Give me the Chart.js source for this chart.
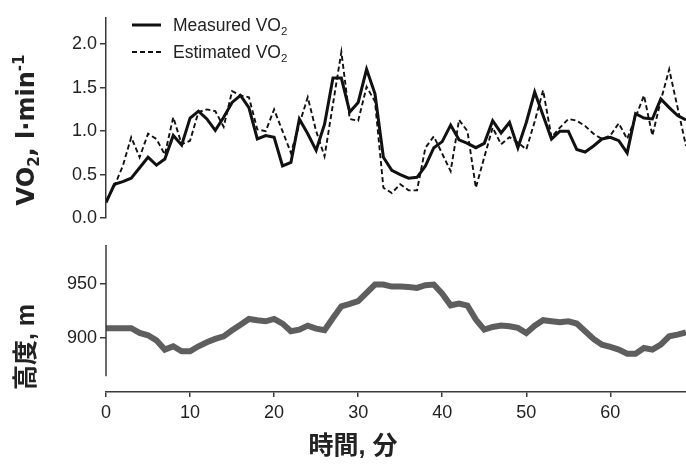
<!DOCTYPE html>
<html>
<head>
<meta charset="utf-8">
<script src="https://cdn.jsdelivr.net/npm/chart.js@4.4.1/dist/chart.umd.min.js"></script>
<style>
  html, body { margin: 0; padding: 0; background: #fff; }
  #wrap { position: relative; width: 686px; height: 466px; overflow: hidden; }
  canvas { position: absolute; left: 0; }
  #vo2 { top: 0; }
  #alt { top: 226px; }
</style>
</head>
<body>
<div id="wrap">
  <canvas id="vo2" width="686" height="232"></canvas>
  <canvas id="alt" width="686" height="240"></canvas>
</div>
<script>
// Time in minutes
const minutes = [0,1,2,3,4,5,6,7,8,9,10,11,12,13,14,15,16,17,18,19,20,21,22,23,24,25,26,27,28,29,
  30,31,32,33,34,35,36,37,38,39,40,41,42,43,44,45,46,47,48,49,50,51,52,53,54,55,56,57,58,59,
  60,61,62,63,64,65,66,67,68,69];

// Oxygen uptake, l/min
const measuredVO2 = [0.18,0.39,0.42,0.46,0.58,0.70,0.61,0.68,0.95,0.84,1.15,1.23,1.14,1.01,1.16,1.33,1.41,1.27,0.91,0.95,
  0.93,0.60,0.64,1.14,0.97,0.78,1.08,1.61,1.61,1.22,1.33,1.71,1.43,0.70,0.55,0.50,0.46,0.47,0.60,0.81,
  0.88,1.07,0.90,0.86,0.81,0.86,1.12,0.98,1.10,0.81,1.10,1.45,1.18,0.91,1.00,1.00,0.79,0.76,0.83,0.91,
  0.93,0.89,0.75,1.20,1.15,1.14,1.37,1.27,1.18,1.13];
const estimatedVO2 = [0.20,0.37,0.60,0.93,0.70,0.97,0.91,0.73,1.16,0.85,0.89,1.22,1.25,1.23,1.05,1.46,1.41,1.39,1.02,1.00,
  1.25,1.00,0.75,1.08,1.39,1.00,0.71,1.31,1.91,1.14,1.12,1.51,1.34,0.35,0.29,0.39,0.32,0.32,0.81,0.94,
  0.74,0.54,1.13,1.00,0.35,0.70,1.04,0.85,0.93,0.87,0.79,1.11,1.47,0.93,1.04,1.14,1.12,1.06,0.97,0.91,
  0.95,1.09,0.91,1.16,1.41,0.95,1.35,1.71,1.27,0.83];

// Altitude, m
const altitude = [909,909,909,909,904.6,902.5,897.8,889.2,892.3,887.7,887.7,892.3,896,899.1,901.5,907.1,912.3,917.6,916.4,915.4,
  917.6,913.3,906.2,907.7,911.4,908.6,907.1,918.5,929.3,931.5,934,941.7,949.4,949.4,947.5,947.5,947.2,946.3,948.8,949.4,
  941,930.2,931.8,930,917,907.7,910.2,911.4,910.8,909.3,904.6,911.4,916.4,915.4,914.5,915.4,913.3,906.2,899.1,893.8,
  891.7,889.2,885.5,885.5,890.7,889.2,893.8,901.5,903.1,905.2];

const vo2Ticks = [0, 0.5, 1.0, 1.5, 2.0];
const altTicks = [900, 950];
const minuteTicks = [0, 10, 20, 30, 40, 50, 60];

const FONT = '"Liberation Sans", Arial, "Noto Sans CJK JP", sans-serif';
const WIDE_FONT = '"DejaVu Sans", "Liberation Sans", sans-serif';
const AXIS = '#3a3a3a';
const TEXT = '#222';

Chart.defaults.font.family = FONT;
Chart.defaults.color = TEXT;

const pts = (ys) => minutes.map((m, i) => ({ x: m, y: ys[i] }));
const fixTicks = (list) => (scale) => { scale.ticks = list.map(v => ({ value: v })); };

// Draw a run of text pieces (for sub/superscripts), optionally rotated
function drawRich(ctx, parts, x, y, opts) {
  const family = opts.family || FONT;
  ctx.save();
  ctx.translate(x, y);
  if (opts.rotate) ctx.rotate(-Math.PI / 2);
  ctx.fillStyle = TEXT;
  ctx.textAlign = 'left';
  ctx.textBaseline = 'alphabetic';
  let total = 0;
  parts.forEach(p => {
    ctx.font = `${p.weight || 'normal'} ${p.size}px ${family}`;
    p.w = ctx.measureText(p.t).width;
    total += p.w;
  });
  let cx = opts.align === 'left' ? 0 : -total / 2;
  const base = opts.baseSize * 0.36;
  parts.forEach(p => {
    ctx.font = `${p.weight || 'normal'} ${p.size}px ${family}`;
    ctx.fillText(p.t, cx, base + (p.dy || 0));
    cx += p.w;
  });
  ctx.restore();
}

const vo2Decor = {
  id: 'vo2Decor',
  afterDraw(chart) {
    const ctx = chart.ctx;
    // y-axis title
    drawRich(ctx, [
      { t: 'VO', size: 24, weight: 'bold' },
      { t: '2', size: 15, weight: 'bold', dy: 5 },
      { t: ', l·min', size: 24, weight: 'bold' },
      { t: '-1', size: 15, weight: 'bold', dy: -10 }
    ], 25, 130, { rotate: true, baseSize: 24, family: WIDE_FONT });

    // legend
    const rows = [
      { ds: chart.data.datasets[0], y: 25 },
      { ds: chart.data.datasets[1], y: 52 }
    ];
    rows.forEach(r => {
      ctx.save();
      ctx.strokeStyle = r.ds.borderColor;
      ctx.lineWidth = r.ds.borderWidth;
      ctx.setLineDash(r.ds.borderDash || []);
      ctx.beginPath();
      ctx.moveTo(132, r.y);
      ctx.lineTo(161, r.y);
      ctx.stroke();
      ctx.restore();
      const name = r.ds.label.replace(/2$/, '');
      drawRich(ctx, [
        { t: name, size: 17.5 },
        { t: '2', size: 11.5, dy: 4 }
      ], 173, r.y, { align: 'left', baseSize: 17.5 });
    });
  }
};

new Chart(document.getElementById('vo2'), {
  type: 'line',
  data: {
    datasets: [
      { label: 'Measured VO2', data: pts(measuredVO2), borderColor: '#111', borderWidth: 3,
        pointRadius: 0, tension: 0, borderJoinStyle: 'miter' },
      { label: 'Estimated VO2', data: pts(estimatedVO2), borderColor: '#111', borderWidth: 1.9,
        borderDash: [5, 3], pointRadius: 0, tension: 0 }
    ]
  },
  options: {
    responsive: false,
    animation: false,
    devicePixelRatio: 1,
    events: [],
    layout: { padding: { top: 18, bottom: 9, left: 0, right: 0 } },
    plugins: { legend: { display: false }, tooltip: { enabled: false } },
    scales: {
      x: { type: 'linear', min: 0, max: 69, display: false },
      y: {
        min: 0, max: 2.3,
        afterBuildTicks: fixTicks(vo2Ticks),
        afterFit(scale) { scale.width = 106; },
        ticks: { font: { size: 18 }, color: TEXT, padding: 3,
          callback: v => Number(v).toFixed(1) },
        grid: { drawOnChartArea: false, drawTicks: true, tickLength: 6, color: AXIS, lineWidth: 1.5 },
        border: { display: true, color: AXIS, width: 1.5 }
      }
    }
  },
  plugins: [vo2Decor]
});

const altDecor = {
  id: 'altDecor',
  afterDraw(chart) {
    const ctx = chart.ctx;
    const y = chart.scales.y;
    const x0 = chart.chartArea.left;
    // y-axis spine over the altitude range only
    ctx.save();
    ctx.strokeStyle = AXIS;
    ctx.lineWidth = 1.5;
    ctx.beginPath();
    ctx.moveTo(x0, y.getPixelForValue(986));
    ctx.lineTo(x0, y.getPixelForValue(864.5));
    ctx.stroke();
    ctx.restore();

    drawRich(ctx, [{ t: '高度, m', size: 25, weight: 'bold' }], 25, 121, { rotate: true, baseSize: 25 });
    drawRich(ctx, [{ t: '時間, 分', size: 25, weight: 'bold' }], 353, 219, { baseSize: 25 });
  }
};

new Chart(document.getElementById('alt'), {
  type: 'line',
  data: {
    datasets: [
      { label: '高度', data: pts(altitude), borderColor: '#5e5e5e', borderWidth: 6,
        pointRadius: 0, tension: 0, borderJoinStyle: 'miter' }
    ]
  },
  options: {
    responsive: false,
    animation: false,
    devicePixelRatio: 1,
    events: [],
    layout: { padding: { top: 19, bottom: 0, left: 0, right: 0 } },
    plugins: { legend: { display: false }, tooltip: { enabled: false } },
    scales: {
      x: {
        type: 'linear', min: 0, max: 69,
        afterBuildTicks: fixTicks(minuteTicks),
        afterFit(scale) { scale.height = 74; },
        ticks: { font: { size: 18 }, color: TEXT, padding: 5, maxRotation: 0 },
        grid: { drawOnChartArea: false, drawTicks: true, tickLength: 5, color: AXIS, lineWidth: 1.5 },
        border: { display: true, color: AXIS, width: 1.5 }
      },
      y: {
        min: 850, max: 986,
        afterBuildTicks: fixTicks(altTicks),
        afterFit(scale) { scale.width = 106; },
        ticks: { font: { size: 18 }, color: TEXT, padding: 3 },
        grid: { drawOnChartArea: false, drawTicks: true, tickLength: 6, color: AXIS, lineWidth: 1.5 },
        border: { display: false }
      }
    }
  },
  plugins: [altDecor]
});
</script>
</body>
</html>
